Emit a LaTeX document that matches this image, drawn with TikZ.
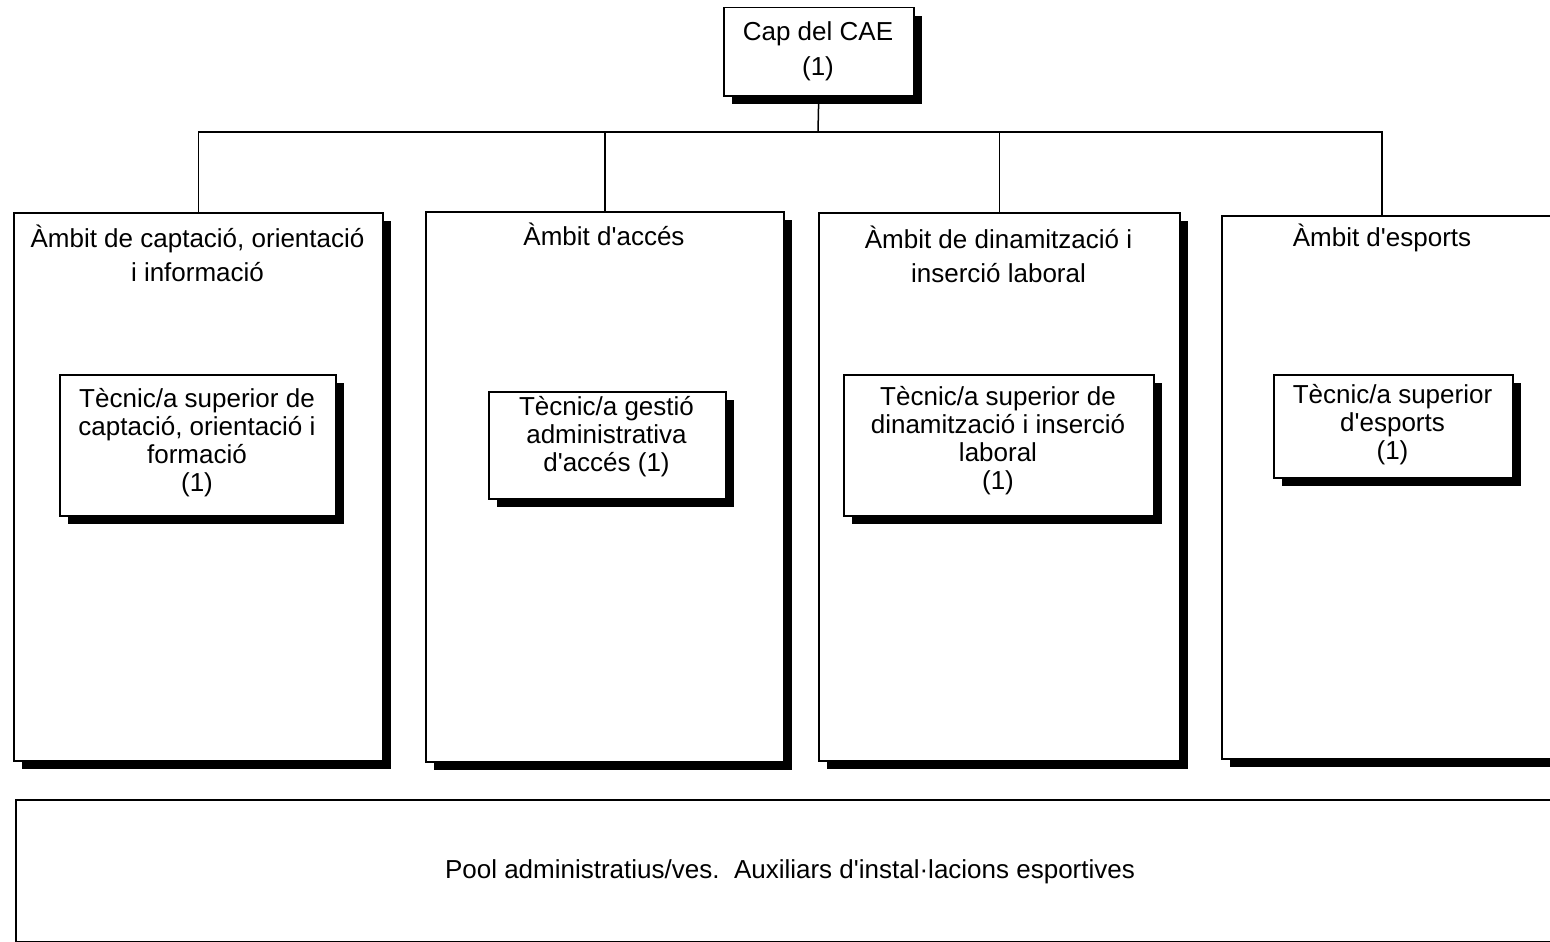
\documentclass[tikz,border=0pt]{standalone}
\usepackage{fontspec}
\setmainfont{Liberation Sans}
\usetikzlibrary{shadows,calc}
\newcommand{\aq}{\textquotesingle}
\begin{document}
\begin{tikzpicture}[x=1pt,y=-1pt,
  shbox/.style={draw=black, line width=1.5pt, fill=white, inner sep=0pt, anchor=north west,
    drop shadow={shadow xshift=8pt, shadow yshift=-8pt, opacity=1, fill=black}},
  plainbox/.style={draw=black, line width=1.8pt, fill=white, inner sep=0pt, anchor=north west},
  ttl/.style={align=center, inner sep=0pt, font=\fontsize{26}{34}\selectfont},
  inr/.style={align=center, inner sep=0pt, font=\fontsize{26}{28}\selectfont},
  conn/.style={draw=black, line width=1.5pt}]
\useasboundingbox (0,0) rectangle (1550,942);
\clip (0,0) rectangle (1550,942);
\fill[white] (0,0) rectangle (1550,942);

% top box
\node[shbox, minimum width=190pt, minimum height=88pt] (top) at (723,7) {};
\node[ttl, font=\fontsize{26}{35}\selectfont] (toptxt) at (818,51) {Cap del CAE\\(1)};

% ambit boxes
\node[shbox, minimum width=369pt, minimum height=548pt] (b1) at (13,212) {};
\node[shbox, minimum width=358pt, minimum height=550pt] (b2) at (425,211) {};
\node[shbox, minimum width=361pt, minimum height=548pt] (b3) at (818,212) {};
\node[shbox, minimum width=360pt, minimum height=543pt] (b4) at (1221,215) {};

\node[ttl] (t1) at (197.5,253) {Àmbit de captació, orientació\\i informació};
\node[ttl] (t2) at (604,234) {Àmbit d\aq accés};
\node[ttl] (t3) at (998.5,254) {Àmbit de dinamització i\\inserció laboral};
\node[ttl] (t4) at (1382,238) {Àmbit d\aq esports};

% inner boxes
\node[shbox, minimum width=276pt, minimum height=141pt] (i1) at (59,374) {};
\node[inr] (i1t) at (197,443) {Tècnic/a superior de\\captació, orientació i\\formació\\(1)};
\node[shbox, minimum width=237pt, minimum height=107pt] (i2) at (488,391) {};
\node[inr] (i2t) at (606.5,437) {Tècnic/a gestió\\administrativa\\d\aq accés (1)};
\node[shbox, minimum width=310pt, minimum height=141pt] (i3) at (843,374) {};
\node[inr] (i3t) at (998,441) {Tècnic/a superior de\\dinamització i inserció\\laboral\\(1)};
\node[shbox, minimum width=239pt, minimum height=103pt] (i4) at (1273,374) {};
\node[inr] (i4t) at (1392.5,425) {Tècnic/a superior\\d\aq esports\\(1)};

% bottom pool box
\node[plainbox, minimum width=1560pt, minimum height=142pt] (pool) at (15,799) {};
\node[ttl] (poolt) at (790,872) {Pool administratius/ves.\ \ Auxiliars d\aq instal·lacions esportives};

% connectors
\coordinate (j) at (818,132);
\coordinate (b4top) at (1382,215);
\draw[conn] (top.south) -- (j);
\draw[conn] (j) -| (b1.north);
\draw[conn] (j) -| (b2.north);
\draw[conn] (j) -| (b3.north);
\draw[conn] (j) -| (b4top);
\end{tikzpicture}
\end{document}
